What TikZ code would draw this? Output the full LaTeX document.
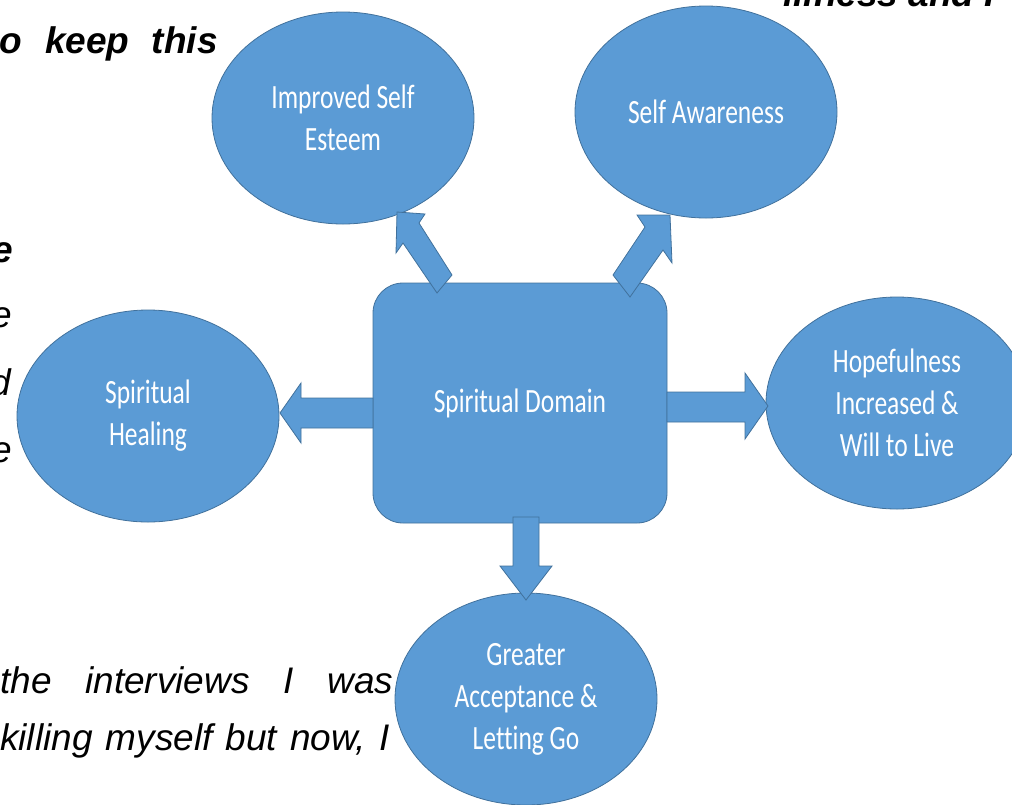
\documentclass[tikz,border=0pt]{standalone}
\usepackage{fontspec}
\setmainfont{Liberation Sans}
\newfontfamily\calib[FakeStretch=0.75,Ligatures=NoCommon]{Carlito}
\usetikzlibrary{shapes.geometric}
\definecolor{fillblue}{HTML}{5B9BD5}
\definecolor{edgeblue}{HTML}{41719C}
\begin{document}
\begin{tikzpicture}[x=1pt,y=-1pt,
  shapetext/.style={text=white, align=center, font=\calib\fontsize{34}{42}\selectfont},
  bubble/.style={ellipse, draw=edgeblue, fill=fillblue, line width=0.8pt,
    minimum width=262pt, minimum height=212pt, inner sep=0pt, shapetext},
  domainbox/.style={rectangle, rounded corners=30pt, draw=edgeblue, fill=fillblue,
    line width=0.8pt, minimum width=294pt, minimum height=240pt, inner sep=0pt, shapetext},
  blockarrow/.style={draw=edgeblue, fill=fillblue, line width=0.8pt, line join=miter},
  bgtext/.style={inner sep=0pt, font=\fontsize{37}{44}\selectfont\itshape, text=black}]
\useasboundingbox (0,0) rectangle (1012,804);
\clip (0,0) rectangle (1012,804);

% background document text fragments
\node[bgtext, anchor=base east] (t1) at (218,53) {\bfseries\makebox[218pt][s]{o keep this}};
\node[bgtext, anchor=base west] (t2) at (783,6) {\bfseries illness and P};
\node[bgtext, anchor=base east] (t3) at (13,262) {\bfseries e};
\node[bgtext, anchor=base east] (t4) at (12,327) {e};
\node[bgtext, anchor=base east] (t5) at (11,395) {d};
\node[bgtext, anchor=base east] (t6) at (12,462) {e};
\node[bgtext, anchor=base west] (t7) at (0,693) {\makebox[393pt][s]{the interviews I was}};
\node[bgtext, anchor=base west] (t8) at (0,750) {\makebox[390pt][s]{killing myself but now, I}};

% shapes
\node[bubble] (ise) at (343,118) {Improved Self\\Esteem};
\node[bubble] (sa) at (706,112) {Self Awareness};
\node[bubble] (sh) at (148,416) {Spiritual\\Healing};
\node[bubble] (hope) at (897,403) {Hopefulness\\Increased \&\\Will to Live};
\node[bubble] (ga) at (526,699) {Greater\\Acceptance \&\\Letting Go};
\node[domainbox] (dom) at (520,403) {Spiritual Domain};

% block arrows
\draw[blockarrow] (373,398) -- (301,398) -- (301,383) -- (280,413) -- (301,443) -- (301,428) -- (373,428) -- cycle;
\draw[blockarrow] (667,392) -- (745,392) -- (745,373) -- (768,406) -- (745,439) -- (745,422) -- (667,422) -- cycle;
\draw[blockarrow] (513,517) -- (513,566) -- (500,566) -- (526,600) -- (552,566) -- (539,566) -- (539,517) -- cycle;
\draw[blockarrow] (397,212) -- (425,214) -- (419,223) -- (452,275) -- (437,293) -- (403,243) -- (396,253) -- cycle;
\draw[blockarrow] (670,215) -- (637,215) -- (645,227) -- (613,275) -- (630,297) -- (663,250) -- (672,263) -- cycle;
\end{tikzpicture}
\end{document}
